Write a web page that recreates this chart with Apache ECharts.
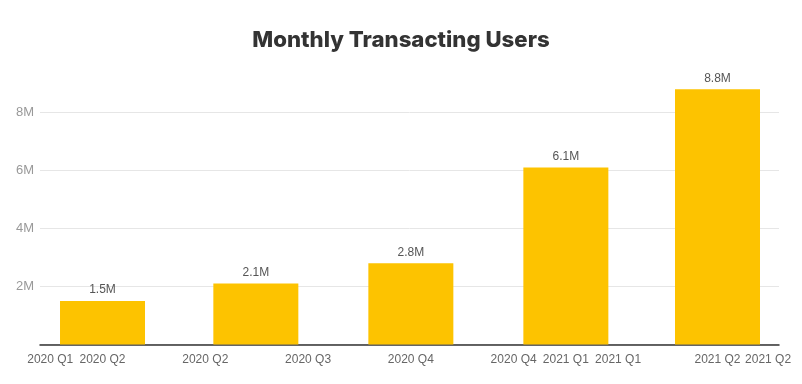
<!DOCTYPE html>
<html>
<head>
<meta charset="utf-8">
<script src="https://cdn.jsdelivr.net/npm/echarts@6/dist/echarts.min.js"></script>
<style>
html,body{margin:0;padding:0;background:#fff;}
#chart{width:802px;height:384px;}
</style>
</head>
<body>
<div id="chart"></div>
<script>
// Data
const barDates = ['2020-04-01', '2020-07-01', '2020-10-01', '2021-01-01', '2021-04-01'];
const barValues = [1.5e6, 2.1e6, 2.8e6, 6.1e6, 8.8e6];
const tickDates = ['2020-03-01', '2020-04-01', '2020-06-01', '2020-08-01', '2020-10-01', '2020-12-01', '2021-01-01', '2021-02-01', '2021-04-01', '2021-05-01'];
const tickLabels = ['2020 Q1', '2020 Q2', '2020 Q2', '2020 Q3', '2020 Q4', '2020 Q4', '2021 Q1', '2021 Q1', '2021 Q2', '2021 Q2'];
const yTickValues = [2e6, 4e6, 6e6, 8e6];

const DAY = 86400000;
const ts = s => { const p = s.split('-').map(Number); return Date.UTC(p[0], p[1] - 1, p[2]); };
const tickTs = tickDates.map(ts);
const labelMap = {};
tickTs.forEach((t, i) => { labelMap[t] = tickLabels[i]; });

const chart = echarts.init(document.getElementById('chart'));
chart.setOption({
  animation: false,
  title: {
    text: 'Monthly Transacting Users',
    left: 'center',
    top: 24.5,
    textStyle: { fontFamily: 'Inter', fontWeight: 800, fontSize: 22.2, color: '#333' }
  },
  grid: { left: 40, right: 23, top: 54.5, bottom: 39.5, containLabel: false },
  xAxis: {
    type: 'value',
    min: ts('2020-04-01') - 37.1 * DAY,
    max: ts('2020-04-01') + 401.5 * DAY,
    axisLine: { show: true, lineStyle: { color: '#333', width: 1.5 } },
    axisTick: { show: false },
    splitLine: { show: false },
    axisLabel: {
      customValues: tickTs,
      formatter: v => labelMap[v] || '',
      color: '#666',
      fontSize: 12,
      fontFamily: 'Liberation Sans',
      margin: 9,
      hideOverlap: false,
      showMinLabel: true,
      showMaxLabel: true
    }
  },
  yAxis: {
    type: 'value',
    min: 0,
    max: 10e6,
    interval: 2e6,
    axisLine: { show: false },
    axisTick: { show: false },
    splitLine: { lineStyle: { color: ['#e6e6e6', '#e6e6e6', '#e6e6e6', '#e6e6e6', '#e6e6e6', 'rgba(0,0,0,0)'], width: 1 } },
    axisLabel: {
      formatter: v => (yTickValues.indexOf(v) >= 0 ? (v / 1e6) + 'M' : ''),
      color: '#999',
      fontSize: 13,
      fontFamily: 'Liberation Sans',
      margin: 6
    }
  },
  series: [{
    type: 'bar',
    barWidth: 85,
    data: barDates.map((d, i) => [ts(d), barValues[i]]),
    itemStyle: { color: '#FDC300' },
    label: {
      show: true,
      position: 'top',
      distance: 5,
      formatter: p => (p.value[1] / 1e6).toFixed(1) + 'M',
      color: '#555',
      fontSize: 12,
      fontFamily: 'Liberation Sans'
    }
  }]
});
</script>
</body>
</html>
